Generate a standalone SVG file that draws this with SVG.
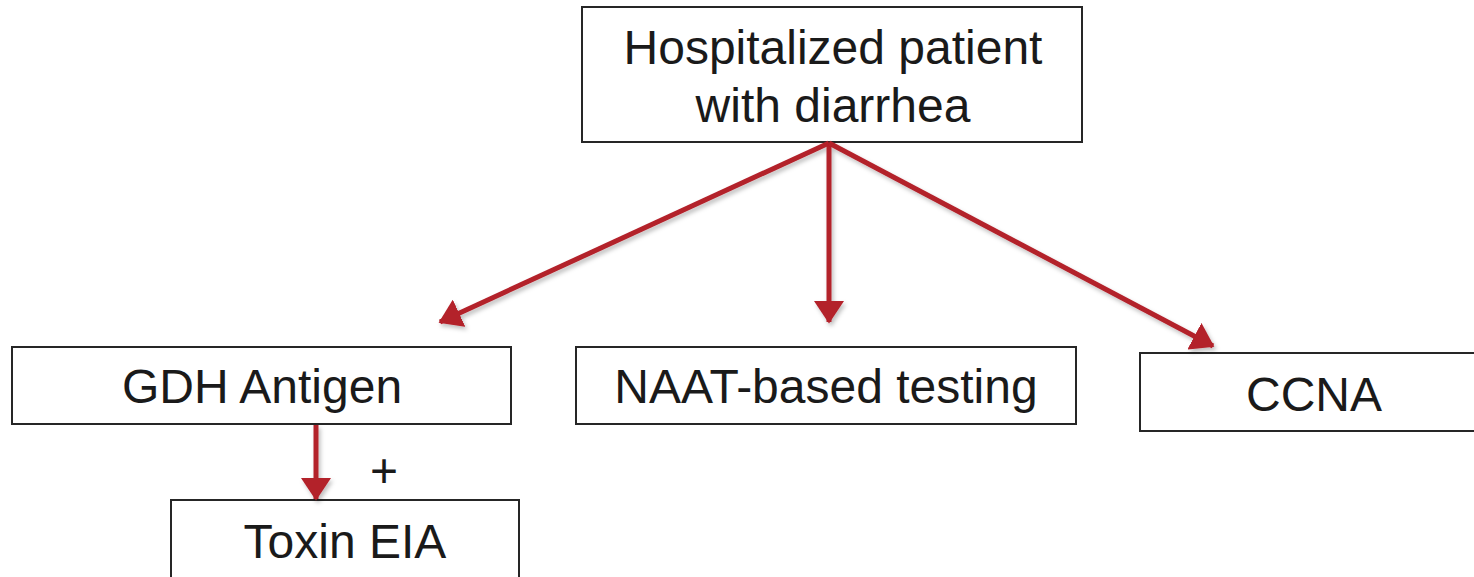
<svg xmlns="http://www.w3.org/2000/svg" width="1474" height="577" viewBox="0 0 1474 577">
<style>
.box{fill:#fff;stroke:#262626;stroke-width:2}
.t{font-family:"Liberation Sans",Arial,sans-serif;font-size:48px;fill:#1a1a1a;text-anchor:middle}
.c{stroke:#B3202A;stroke-width:5;fill:none}
</style>
<defs>
<marker id="ah" markerWidth="6" markerHeight="6" refX="4.2" refY="3" orient="auto" markerUnits="strokeWidth">
<path d="M0,0 L4.5,3 L0,6 Z" fill="#B3202A"/>
</marker>
<filter id="sh" x="-10%" y="-10%" width="120%" height="120%">
<feDropShadow dx="2" dy="3" stdDeviation="2" flood-color="#000" flood-opacity="0.25"/>
</filter>
</defs>
<g id="n-hosp"><rect class="box" x="582" y="7" width="500" height="135"/>
<text class="t" x="833" y="64">Hospitalized patient</text>
<text class="t" x="833" y="122">with diarrhea</text></g>
<g id="n-gdh"><rect class="box" x="12" y="347" width="499" height="77"/>
<text class="t" x="262" y="403">GDH Antigen</text></g>
<g id="n-naat"><rect class="box" x="576" y="347" width="500" height="77"/>
<text class="t" x="826" y="403">NAAT-based testing</text></g>
<g id="n-ccna"><rect class="box" x="1140" y="353" width="340" height="78"/>
<text class="t" x="1314" y="411">CCNA</text></g>
<g id="n-toxin"><rect class="box" x="171" y="500" width="348" height="90"/>
<text class="t" x="345" y="558">Toxin EIA</text></g>
<g id="connectors" filter="url(#sh)">
<line class="c" x1="829" y1="143" x2="440" y2="322" marker-end="url(#ah)"/>
<line class="c" x1="829" y1="143" x2="829" y2="322" marker-end="url(#ah)"/>
<line class="c" x1="829" y1="143" x2="1213" y2="346" marker-end="url(#ah)"/>
<line class="c" x1="316" y1="425" x2="316" y2="499" marker-end="url(#ah)"/>
</g>
<text class="t" x="384" y="487">+</text>
</svg>
